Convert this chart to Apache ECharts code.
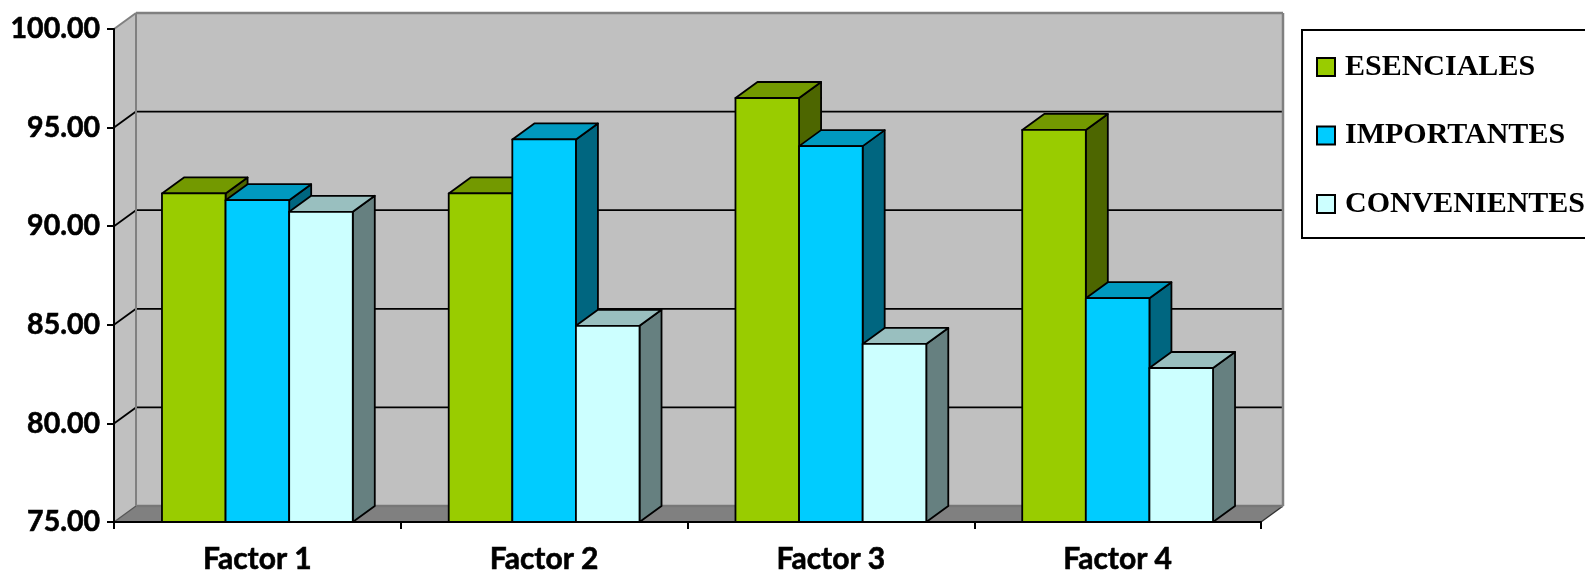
<!DOCTYPE html>
<html>
<head>
<meta charset="utf-8">
<style>html,body{margin:0;padding:0;background:#fff;overflow:hidden}#c{width:1585px;height:572px}</style>
<script src="https://cdn.jsdelivr.net/npm/echarts@6/dist/echarts.min.js"></script>
</head>
<body>
<div id="c"></div>
<script>
var categories = ['Factor 1', 'Factor 2', 'Factor 3', 'Factor 4'];
var esenciales = [91.66, 91.66, 96.5, 94.88];
var importantes = [91.32, 94.4, 94.06, 86.35];
var convenientes = [90.73, 84.95, 84.03, 82.81];
var yTicks = [75, 80, 85, 90, 95, 100];

var DX = 22, DY = 16, BAR_SHARE = 0.2218;

function wall(params, api) {
  var c = params.coordSys, x = c.x, w = c.width, top = c.y, bot = c.y + c.height;
  var kids = [];
  function poly(points, fill) {
    kids.push({type: 'polygon', shape: {points: points}, style: {fill: fill, stroke: null}, silent: true});
  }
  function line(x1, y1, x2, y2, color, width) {
    kids.push({type: 'line', shape: {x1: x1, y1: y1, x2: x2, y2: y2}, style: {stroke: color, lineWidth: width}, silent: true});
  }
  poly([[x + DX, top - DY], [x + w + DX, top - DY], [x + w + DX, bot - DY], [x + DX, bot - DY]], '#C0C0C0');
  poly([[x, top], [x + DX, top - DY], [x + DX, bot - DY], [x, bot]], '#C0C0C0');
  poly([[x, bot], [x + DX, bot - DY], [x + w + DX, bot - DY], [x + w, bot]], '#808080');
  yTicks.forEach(function (v) {
    var y = api.coord([0, v])[1];
    if (v === 75) {
      line(x, y, x + DX, y - DY, '#555555', 1.2);
      line(x + w, y, x + w + DX, y - DY, '#333333', 1.5);
      line(x + DX, y - DY, x + w + DX, y - DY, '#777777', 2.5);
    } else if (v === 100) {
      line(x, y, x + DX, y - DY, '#808080', 2);
      line(x + DX, y - DY, x + w + DX, y - DY, '#808080', 2.5);
    } else {
      line(x, y, x + DX, y - DY, '#000', 1.8);
      line(x + DX, y - DY, x + w + DX, y - DY, '#000', 1.8);
    }
  });
  line(x + DX, top - DY, x + DX, bot - DY, '#808080', 2);
  line(x + w + DX, top - DY, x + w + DX, bot - DY, '#808080', 2.5);
  return {type: 'group', children: kids};
}

function bar3d(slot, front, topc, side) {
  return function (params, api) {
    var p = api.coord([api.value(0), api.value(1)]);
    var base = api.coord([api.value(0), 75]);
    var w = api.size([1, 0])[0] * BAR_SHARE;
    var x = p[0] + (slot - 1.5) * w, y = p[1], b = base[1];
    var stroke = {stroke: '#000', lineWidth: 1.8, lineJoin: 'round'};
    function st(fill) { return Object.assign({fill: fill}, stroke); }
    return {type: 'group', children: [
      {type: 'polygon', shape: {points: [[x + w, y], [x + w + DX, y - DY], [x + w + DX, b - DY], [x + w, b]]}, style: st(side)},
      {type: 'polygon', shape: {points: [[x, y], [x + DX, y - DY], [x + w + DX, y - DY], [x + w, y]]}, style: st(topc)},
      {type: 'rect', shape: {x: x, y: y, width: w, height: b - y}, style: st(front)}
    ]};
  };
}

function barSeries(name, values, slot, front, topc, side) {
  return {
    name: name, type: 'custom', clip: false, z: 3,
    itemStyle: {color: front, borderColor: '#000', borderWidth: 1.8},
    encode: {x: 0, y: 1},
    renderItem: bar3d(slot, front, topc, side),
    data: values.map(function (v, i) { return [i, v]; })
  };
}

var chart = echarts.init(document.getElementById('c'), null, {renderer: 'canvas'});
chart.setOption({
  animation: false,
  backgroundColor: '#fff',
  tooltip: {show: false},
  grid: {left: 114, top: 29, width: 1147, height: 493, containLabel: false, outerBoundsMode: 'none'},
  legend: {
    orient: 'vertical', left: 1302, top: 30, padding: [22, 12, 19, 14],
    borderColor: '#000', borderWidth: 2, backgroundColor: '#fff',
    itemWidth: 18, itemHeight: 18, itemGap: 38.5, icon: 'rect', selectedMode: false,
    textStyle: {fontFamily: 'Liberation Serif', fontWeight: 'bold', fontSize: 30, color: '#000', lineHeight: 18, padding: [0, 0, 0, 5]},
    data: ['ESENCIALES', 'IMPORTANTES', 'CONVENIENTES']
  },
  xAxis: {
    type: 'category', data: categories, z: 10,
    axisLine: {show: true, lineStyle: {color: '#000', width: 2}},
    axisTick: {show: true, length: 7, alignWithLabel: false, lineStyle: {color: '#000', width: 2}},
    axisLabel: {interval: 0, margin: 22, fontFamily: 'Lato', fontWeight: 'bold', fontSize: 30, color: '#000', textBorderColor: '#000', textBorderWidth: 0.6},
    splitLine: {show: false}
  },
  yAxis: {
    type: 'value', min: 75, max: 100, interval: 5, z: 10,
    axisLine: {show: true, lineStyle: {color: '#000', width: 2}},
    axisTick: {show: true, length: 7, lineStyle: {color: '#000', width: 2}},
    axisLabel: {margin: 14, fontFamily: 'Lato', fontWeight: 'bold', fontSize: 28.5, color: '#000', textBorderColor: '#000', textBorderWidth: 0.6,
      formatter: function (v) { return v.toFixed(2); }},
    splitLine: {show: false}
  },
  series: [
    {type: 'custom', clip: false, z: 1, silent: true, renderItem: wall, data: [[0, 75]], encode: {x: 0, y: 1}},
    barSeries('ESENCIALES', esenciales, 0, '#99CC00', '#739900', '#4D6600'),
    barSeries('IMPORTANTES', importantes, 1, '#00CCFF', '#0099BF', '#006680'),
    barSeries('CONVENIENTES', convenientes, 2, '#CCFFFF', '#99BFBF', '#668080')
  ]
});
</script>
</body>
</html>
